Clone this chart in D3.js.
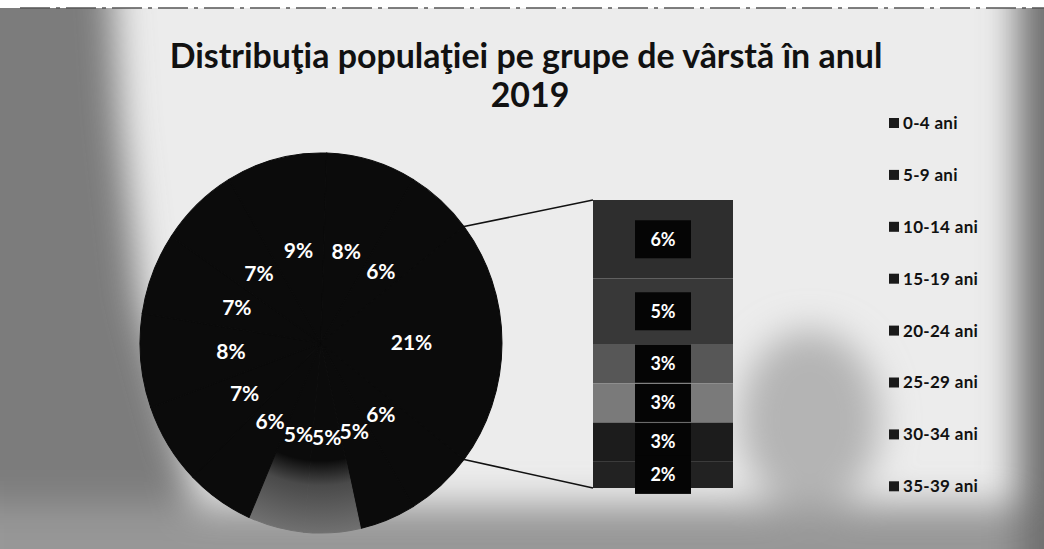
<!DOCTYPE html>
<html>
<head>
<meta charset="utf-8">
<script src="https://cdn.jsdelivr.net/npm/d3@7"></script>
<style>
  body { margin: 0; background: #ffffff; }
  svg { display: block; }
  text { font-family: Lato, "Open Sans", sans-serif; }
</style>
</head>
<body>
<svg id="chart" width="1044" height="549"></svg>
<script>
// Age groups (legend in the reference only shows the first 8)
var age_groups = ['0-4 ani', '5-9 ani', '10-14 ani', '15-19 ani', '20-24 ani', '25-29 ani',
    '30-34 ani', '35-39 ani', '40-44 ani', '45-49 ani', '50-54 ani', '55-59 ani',
    '60-64 ani', '65-69 ani', '70-74 ani', '75-79 ani', '80-84 ani', '85+ ani'];
// Shares (%) drawn in the main pie, first 12 groups
var pie_shares = [6, 5, 5, 5, 6, 7, 8, 7, 7, 9, 8, 6];
// Shares (%) of the last 6 groups, shown in the stacked bar
var bar_shares = [6, 5, 3, 3, 3, 2];
// Label of the combined "other" slice
var other_share = 21;
var legend_count = 8;
var title_lines = ['Distribuţia populaţiei pe grupe de vârstă în anul', '2019'];

var W = 1044, H = 549;
var svg = d3.select('#chart');
var defs = svg.append('defs');

// Scanned-paper look: light centre, greyish borders
defs.append('filter').attr('id', 'blur').attr('x', '-20%').attr('y', '-20%')
    .attr('width', '140%').attr('height', '140%')
    .append('feGaussianBlur').attr('stdDeviation', 18);
svg.append('rect').attr('width', W).attr('height', H).attr('fill', '#ececec');
var bg = svg.append('g').attr('filter', 'url(#blur)');
bg.append('path').attr('d', 'M-40,-40 L110,-40 L120,120 L140,300 L200,520 L-40,600 Z').attr('fill', '#7c7c7c');
bg.append('rect').attr('x', -40).attr('y', 505).attr('width', W + 80).attr('height', 100).attr('fill', '#979797');
bg.append('rect').attr('x', 1018).attr('y', -40).attr('width', 80).attr('height', H + 80).attr('fill', '#6e6e6e');
bg.append('ellipse').attr('cx', 810).attr('cy', 420).attr('rx', 70).attr('ry', 90).attr('fill', '#b4b4b4');
svg.append('rect').attr('width', W).attr('height', 8).attr('fill', '#ffffff');
svg.append('line').attr('x1', 20).attr('x2', W).attr('y1', 8).attr('y2', 8)
    .attr('stroke', '#555').attr('stroke-width', 1.5).attr('stroke-dasharray', '30 6 4 6');

// Title
var title = svg.append('g').attr('fill', '#111').attr('font-weight', 700).attr('text-anchor', 'middle');
var t1 = title.append('text').attr('x', 526).attr('y', 68).attr('font-size', 29).text(title_lines[0]);
var fit = 29 * 713 / t1.node().getComputedTextLength();
t1.attr('font-size', fit);
title.append('text').attr('x', 530).attr('y', 107).attr('font-size', fit).text(title_lines[1]);

// Main pie (the "other" slice is centred at 3 o'clock, as in a bar-of-pie chart)
var cx = 321, cy = 343, R = 181, squash = 1.05;
var pie_values = pie_shares.concat([other_share]);
var total = d3.sum(pie_values);
var start = Math.PI / 2 + other_share / total * Math.PI;
var pie = d3.pie().sort(null).startAngle(start).endAngle(start + 2 * Math.PI);
var arcs = pie(pie_values);
var arc = d3.arc().innerRadius(0).outerRadius(R);

// the scan fades the lower slices towards the rim
var fade = defs.append('radialGradient').attr('id', 'fade')
    .attr('gradientUnits', 'userSpaceOnUse').attr('cx', 0).attr('cy', 0).attr('r', R);
fade.append('stop').attr('offset', 0.62).attr('stop-color', '#0b0b0b');
fade.append('stop').attr('offset', 0.75).attr('stop-color', '#4a4a4a');
fade.append('stop').attr('offset', 1).attr('stop-color', '#707070');
function slice_fill(d, i) { return (i === 2 || i === 3) ? 'url(#fade)' : '#0b0b0b'; }

var pg = svg.append('g').attr('transform', 'translate(' + cx + ',' + cy + ')');
pg.append('g').attr('transform', 'scale(1,' + squash + ')')
    .selectAll('path').data(arcs).enter().append('path')
    .attr('d', arc)
    .attr('fill', slice_fill)
    .attr('stroke', slice_fill)
    .attr('stroke-width', 1);
pg.selectAll('text').data(arcs).enter().append('text')
    .attr('x', function (d) { return arc.centroid(d)[0]; })
    .attr('y', function (d) { return arc.centroid(d)[1] * squash; })
    .attr('dy', '0.35em')
    .attr('text-anchor', 'middle')
    .attr('fill', '#fff').attr('font-weight', 700).attr('font-size', 21)
    .text(function (d) { return d.data + '%'; });

// Stacked bar for the small groups
var bar_x = 593, bar_w = 140, bar_top = 200, bar_bottom = 488;
var y = d3.scaleLinear().domain([0, d3.sum(bar_shares)]).range([bar_top, bar_bottom]);
var ends = Array.from(d3.cumsum(bar_shares));
var bar_fill = ['#2e2e2e', '#383838', '#575757', '#7a7a7a', '#1c1c1c', '#222222'];
var bars = svg.append('g');
bars.selectAll('rect').data(bar_shares).enter().append('rect')
    .attr('x', bar_x).attr('width', bar_w)
    .attr('y', function (d, i) { return y(ends[i] - d); })
    .attr('height', function (d) { return y(d) - y(0); })
    .attr('fill', function (d, i) { return bar_fill[i]; });
var lab = svg.append('g');
lab.selectAll('rect').data(bar_shares).enter().append('rect')
    .attr('x', bar_x + bar_w / 2 - 28).attr('width', 56)
    .attr('y', function (d, i) { return (y(ends[i] - d) + y(ends[i])) / 2 - 19; })
    .attr('height', 38).attr('fill', '#050505');
lab.selectAll('text').data(bar_shares).enter().append('text')
    .attr('x', bar_x + bar_w / 2)
    .attr('y', function (d, i) { return (y(ends[i] - d) + y(ends[i])) / 2; })
    .attr('dy', '0.35em').attr('text-anchor', 'middle')
    .attr('fill', '#fff').attr('font-weight', 700).attr('font-size', 18)
    .text(function (d) { return d + '%'; });

// Connector lines from the "other" slice to the bar
var other = arcs[arcs.length - 1];
[[other.startAngle, bar_top], [other.endAngle, bar_bottom]].forEach(function (p) {
    svg.append('line')
        .attr('x1', cx + R * Math.sin(p[0]))
        .attr('y1', cy - R * Math.cos(p[0]) * squash)
        .attr('x2', bar_x).attr('y2', p[1])
        .attr('stroke', '#111').attr('stroke-width', 1.6);
});

// Legend (only the first entries are visible in the reference)
var legend = svg.append('g').selectAll('g').data(age_groups.slice(0, legend_count)).enter().append('g')
    .attr('transform', function (d, i) { return 'translate(889,' + (123 + i * 51.9) + ')'; });
legend.append('rect').attr('x', 0).attr('y', -5).attr('width', 10).attr('height', 10).attr('fill', '#1a1a1a');
legend.append('text').attr('x', 14).attr('dy', '0.35em')
    .attr('font-size', 17).attr('font-weight', 700).attr('fill', '#111').attr('letter-spacing', 0.3)
    .text(function (d) { return d; });
</script>
</body>
</html>
